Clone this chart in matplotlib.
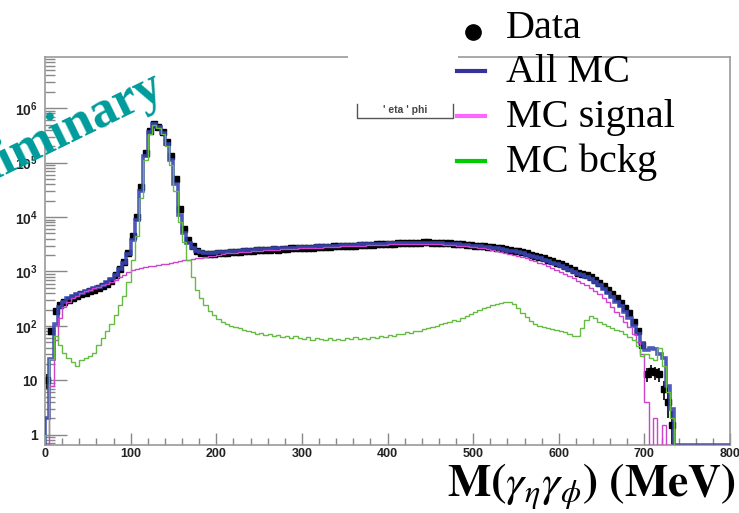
import numpy as np
import matplotlib
matplotlib.use("Agg")
import matplotlib.pyplot as plt
from matplotlib.ticker import MultipleLocator, LogLocator, NullFormatter
from matplotlib.lines import Line2D
from matplotlib.patches import Rectangle

# histogram binning, M(gamma_eta gamma_phi) in MeV
bin_width = 5
edges = np.arange(0, 800 + bin_width, bin_width)

# counts per 5 MeV bin (rows of 50 MeV)
data_counts = [
    10, 80, 190, 240, 270, 300, 330, 350, 380, 400,
    430, 460, 500, 540, 600, 680, 850, 1100, 1500, 2200,
    4500, 10000, 35000, 150000, 380000, 520000, 460000, 360000, 240000, 130000,
    50000, 14000, 6000, 3800, 2900, 2400, 2200, 2100, 2100, 2100,
    2150, 2200, 2200, 2250, 2300, 2300, 2350, 2400, 2400, 2450,
    2450, 2500, 2500, 2550, 2500, 2600, 2600, 2650, 2650, 2700,
    2700, 2750, 2750, 2800, 2800, 2850, 2800, 2900, 2900, 2950,
    2950, 3000, 3000, 3050, 3050, 3100, 3100, 3150, 3150, 3200,
    3250, 3250, 3300, 3300, 3350, 3350, 3400, 3400, 3450, 3450,
    3400, 3400, 3350, 3350, 3300, 3250, 3200, 3150, 3100, 3050,
    3000, 2950, 2900, 2850, 2800, 2700, 2650, 2550, 2500, 2400,
    2350, 2250, 2150, 2050, 1950, 1850, 1750, 1650, 1550, 1450,
    1350, 1250, 1150, 1050, 950, 900, 850, 800, 700, 620,
    530, 450, 380, 320, 260, 210, 170, 120, 80, 45,
    13, 15, 14, 13, 7, 4, 1.5, 0, 0, 0,
    0, 0, 0, 0, 0, 0, 0, 0, 0, 0,
]

mc_all = [
    2, 25, 110, 220, 280, 320, 350, 380, 410, 430,
    460, 490, 520, 570, 630, 720, 870, 1100, 1450, 2100,
    3800, 9000, 30000, 130000, 360000, 510000, 460000, 350000, 220000, 110000,
    40000, 11000, 5000, 3300, 2700, 2400, 2250, 2200, 2200, 2200,
    2250, 2250, 2300, 2350, 2350, 2400, 2450, 2450, 2500, 2550,
    2550, 2600, 2600, 2650, 2650, 2700, 2700, 2750, 2750, 2800,
    2800, 2850, 2850, 2900, 2900, 2950, 2950, 3000, 3000, 3050,
    3050, 3100, 3100, 3150, 3150, 3200, 3200, 3250, 3250, 3250,
    3300, 3300, 3300, 3300, 3350, 3350, 3350, 3350, 3350, 3350,
    3350, 3300, 3300, 3250, 3250, 3200, 3150, 3100, 3050, 3000,
    2950, 2900, 2850, 2800, 2700, 2650, 2550, 2500, 2400, 2350,
    2250, 2150, 2050, 1950, 1850, 1750, 1650, 1550, 1450, 1350,
    1250, 1150, 1050, 980, 900, 850, 780, 720, 640, 560,
    480, 400, 340, 280, 230, 180, 140, 100, 70, 48,
    36, 40, 38, 30, 26, 8, 3, 0, 0, 0,
    0, 0, 0, 0, 0, 0, 0, 0, 0, 0,
]

mc_signal = [
    0, 8, 55, 140, 220, 270, 320, 360, 400, 430,
    460, 490, 520, 560, 600, 650, 700, 780, 880, 980,
    1050, 1100, 1150, 1200, 1250, 1270, 1300, 1350, 1400, 1450,
    1500, 1550, 1600, 1650, 1700, 1750, 1800, 1850, 1900, 1950,
    2050, 2100, 2150, 2200, 2200, 2250, 2300, 2300, 2350, 2400,
    2400, 2450, 2450, 2500, 2500, 2550, 2550, 2600, 2600, 2650,
    2650, 2700, 2700, 2750, 2750, 2800, 2800, 2850, 2850, 2900,
    2900, 2950, 2950, 3000, 3000, 3050, 3050, 3100, 3100, 3100,
    3150, 3150, 3150, 3150, 3200, 3200, 3200, 3200, 3200, 3200,
    3200, 3150, 3150, 3100, 3100, 3050, 3000, 2950, 2900, 2850,
    2800, 2750, 2650, 2600, 2500, 2400, 2300, 2200, 2100, 2050,
    1950, 1850, 1750, 1650, 1550, 1450, 1350, 1250, 1150, 1050,
    980, 900, 820, 750, 680, 620, 560, 500, 440, 380,
    320, 270, 220, 180, 150, 120, 95, 70, 50, 30,
    4, 0, 2, 0, 1.5, 0, 0, 0, 0, 0,
    0, 0, 0, 0, 0, 0, 0, 0, 0, 0,
]

mc_bckg = [
    1, 25, 65, 45, 32, 26, 22, 18, 24, 26,
    28, 32, 45, 60, 80, 110, 160, 240, 350, 650,
    1600, 4500, 22000, 110000, 340000, 490000, 440000, 330000, 200000, 90000,
    30000, 8000, 3500, 1600, 800, 450, 320, 240, 190, 160,
    135, 120, 110, 100, 95, 90, 85, 80, 78, 72,
    75, 68, 70, 66, 68, 62, 66, 60, 64, 60,
    58, 62, 56, 60, 57, 55, 60, 56, 58, 55,
    60, 57, 62, 58, 60, 57, 63, 60, 66, 62,
    68, 66, 72, 70, 76, 74, 82, 80, 88, 90,
    96, 100, 108, 115, 120, 128, 125, 140, 150, 165,
    180, 195, 210, 225, 240, 255, 265, 275, 270, 250,
    210, 175, 145, 125, 110, 100, 95, 92, 88, 85,
    82, 78, 70, 64, 66, 90, 130, 155, 140, 120,
    110, 100, 92, 85, 80, 72, 62, 55, 42, 28,
    30, 26, 24, 40, 18, 6, 2, 0, 0, 0,
    0, 0, 0, 0, 0, 0, 0, 0, 0, 0,
]

y_min, y_max = 0.65, 8.7e6
W, H = 739, 513

def fpx(x, y):
    # pixel position -> figure fraction
    return x / W, 1 - y / H

plt.rcParams["mathtext.fontset"] = "stix"

fig = plt.figure(figsize=(W / 100, H / 100), dpi=100)
ax = fig.add_axes([45 / W, 1 - 445 / H, 685 / W, 388 / H])
ax.set_yscale("log")
ax.set_xlim(0, 800)
ax.set_ylim(y_min, y_max)

# ROOT draws empty bins on the bottom of the frame
def floor(v):
    return np.maximum(np.asarray(v, dtype=float), y_min)

data = np.asarray(data_counts, dtype=float)
centers = 0.5 * (edges[:-1] + edges[1:])
shown = data > 0
ax.errorbar(centers[shown], data[shown], yerr=np.sqrt(data[shown]),
            fmt="s", ms=4, color="black", elinewidth=1.2, capsize=0, zorder=2)

ax.stairs(floor(mc_all), edges, color="#3a48b4", lw=2.6, alpha=0.9, zorder=3)
ax.stairs(floor(mc_signal), edges, color="#cc44cc", lw=1.0, zorder=4)
ax.stairs(floor(mc_bckg), edges, color="#66bb44", lw=1.0, zorder=5)

# axis styling, ROOT-like
for s in ax.spines.values():
    s.set_color("#999999")
    s.set_linewidth(1.2)
ax.xaxis.set_major_locator(MultipleLocator(100))
ax.xaxis.set_minor_locator(MultipleLocator(20))
ax.set_yticks([1, 10, 1e2, 1e3, 1e4, 1e5, 1e6])
ax.set_yticklabels(["1", "10"] + [r"$\mathdefault{10^{%d}}$" % p for p in range(2, 7)])
ax.yaxis.set_minor_locator(LogLocator(base=10, subs=np.arange(2, 10), numticks=30))
ax.yaxis.set_minor_formatter(NullFormatter())
ax.tick_params(axis="y", which="major", direction="in", length=16, width=1,
               color="#888888", pad=5, labelsize=10, labelcolor="#222222")
ax.tick_params(axis="y", which="minor", direction="in", length=7, width=1, color="#888888")
ax.tick_params(axis="x", which="major", direction="in", length=9, width=1,
               color="#888888", pad=2, labelsize=9, labelcolor="#222222")
ax.tick_params(axis="x", which="minor", direction="in", length=5, width=1, color="#888888")
for lab in ax.get_xticklabels() + ax.get_yticklabels():
    lab.set_fontfamily("Liberation Sans")
    lab.set_fontweight("bold")

# title pave "eta phi"
fig.patches.append(Rectangle(fpx(348, 118), 110 / W, 70 / H, transform=fig.transFigure,
                             facecolor="white", edgecolor="none", zorder=10))
bx0, by0 = fpx(357, 118)
bx1, by1 = fpx(453, 104)
fig.add_artist(Line2D([bx0, bx0, bx1, bx1], [by1, by0, by0, by1], color="#555555",
                      lw=1, transform=fig.transFigure, zorder=11))
fig.text(*fpx(405, 110), "' eta ' phi", fontsize=7.5, fontweight="bold", color="#444444",
         family="Liberation Sans", ha="center", va="center", zorder=12)

# legend
leg_font = dict(family="Liberation Serif", fontsize=29, color="black", va="center", zorder=20)
fig.text(*fpx(506, 28), "Data", **leg_font)
fig.add_artist(Line2D([fpx(473, 32)[0]], [fpx(473, 32)[1]], marker="o", ms=11, color="black",
                      transform=fig.transFigure, zorder=20))
legend_lines = [("All MC", "#333399", 72), ("MC signal", "#ff66ff", 117), ("MC bckg", "#00cc00", 162)]
for name, col, yy in legend_lines:
    fig.text(*fpx(506, yy), name, **leg_font)
    xa, ya = fpx(457, yy - 1)
    xb, _ = fpx(485, yy - 1)
    fig.add_artist(Line2D([xa, xb], [ya, ya], color=col, lw=3, transform=fig.transFigure, zorder=20))

# axis title
fig.text(*fpx(736, 497), r"$\mathbf{M(}\gamma_{\eta}\gamma_{\phi}\mathbf{)\ (MeV)}$",
         fontsize=33, ha="right", va="baseline", color="black")

# watermark, cut at the left edge as in the original
fig.text(*fpx(166, 96), "Preliminary", family="Liberation Serif", fontweight="bold",
         fontsize=38, color="#009b9b", rotation=26, rotation_mode="anchor",
         ha="right", va="baseline", zorder=15)

fig.savefig("out.png", dpi=100)
